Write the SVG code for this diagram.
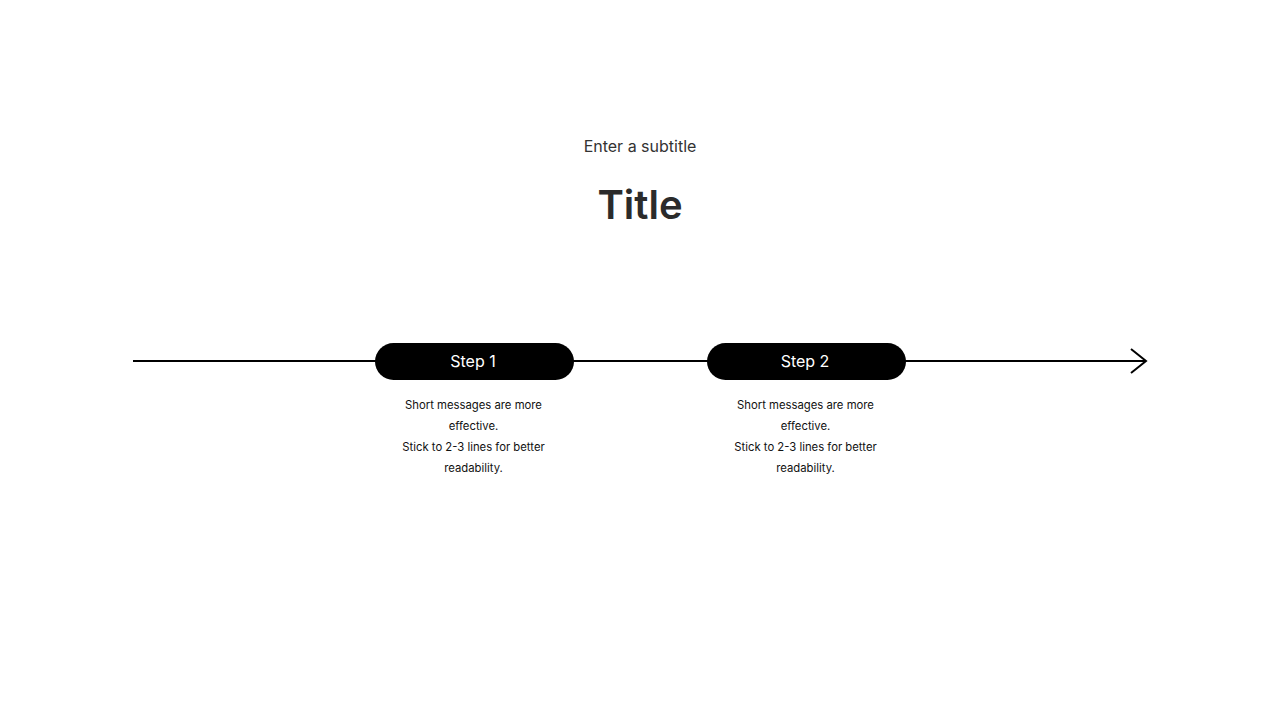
<svg xmlns="http://www.w3.org/2000/svg" width="1280" height="720" viewBox="0 0 1280 720">
<style>
text{font-family:Inter,"Noto Sans","Liberation Sans",sans-serif;text-anchor:middle}
.sub{font-size:16px;fill:#333}
.title{font-size:40px;font-weight:600;fill:#2b2b2b}
.pill{fill:#000}
.lbl{font-size:16px;fill:#fff;font-weight:400}
.body{font-size:11.3px;fill:#111}
.ln{stroke:#000;stroke-width:2;fill:none}
</style>
<rect width="1280" height="720" fill="#fff"/>
<g id="header">
<text class="sub" x="640" y="152">Enter a subtitle</text>
<text class="title" x="640" y="219">Title</text>
</g>
<g id="connectors">
<line class="ln" x1="133" y1="361" x2="1146" y2="361"/>
<polyline class="ln" points="1131,349 1146,361 1131,373" stroke-linejoin="miter"/>
</g>
<g id="step1">
<rect class="pill" x="375" y="343" width="199" height="37" rx="18.5"/>
<text class="lbl" x="473" y="367">Step 1</text>
<text class="body" x="473.5" y="409">Short messages are more</text>
<text class="body" x="473.5" y="430">effective.</text>
<text class="body" x="473.5" y="451">Stick to 2-3 lines for better</text>
<text class="body" x="473.5" y="472">readability.</text>
</g>
<g id="step2">
<rect class="pill" x="707" y="343" width="199" height="37" rx="18.5"/>
<text class="lbl" x="805" y="367">Step 2</text>
<text class="body" x="805.5" y="409">Short messages are more</text>
<text class="body" x="805.5" y="430">effective.</text>
<text class="body" x="805.5" y="451">Stick to 2-3 lines for better</text>
<text class="body" x="805.5" y="472">readability.</text>
</g>
</svg>
